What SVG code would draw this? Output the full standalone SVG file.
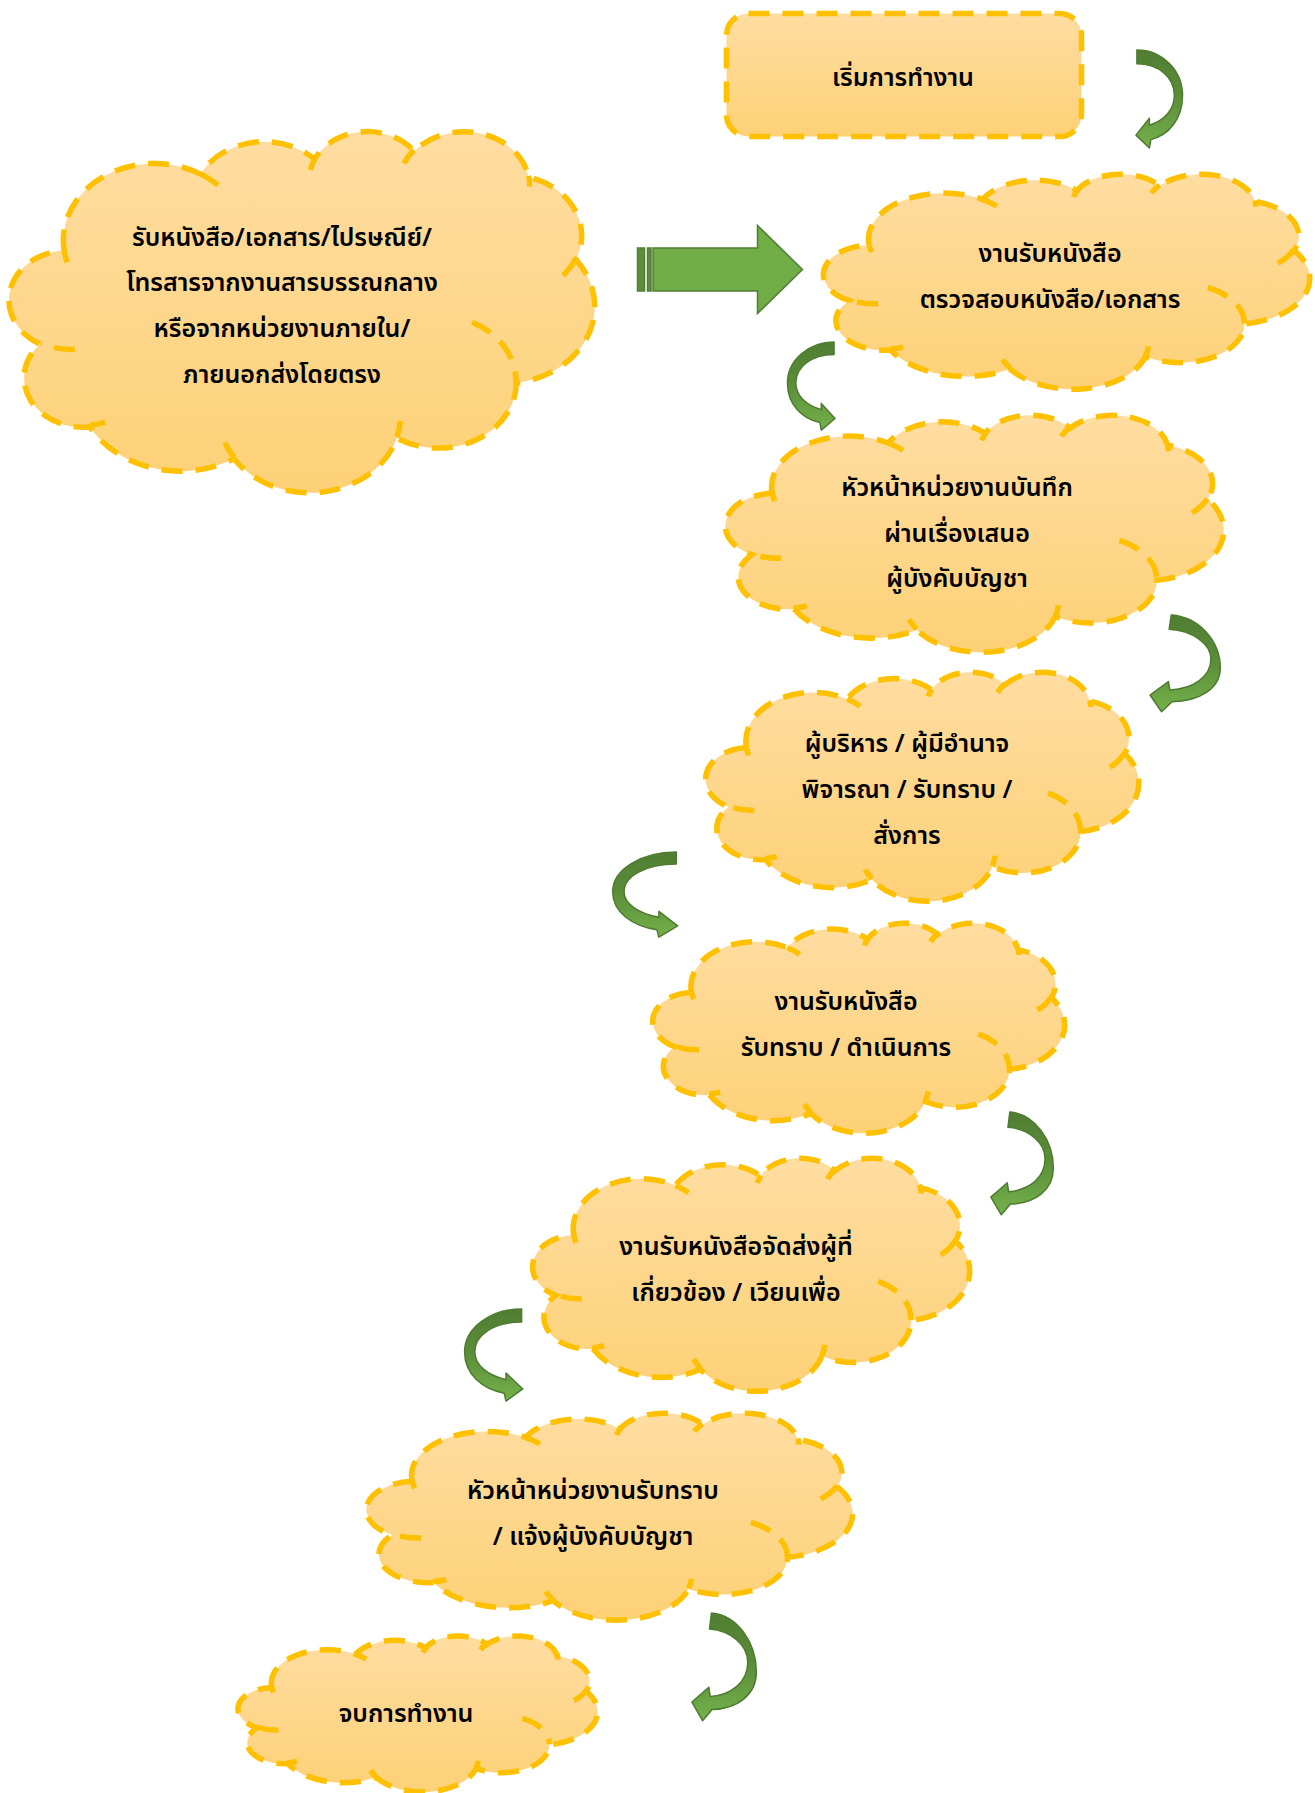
<svg xmlns="http://www.w3.org/2000/svg" xmlns:xlink="http://www.w3.org/1999/xlink" width="1315" height="1793" viewBox="0 0 1315 1793">
<defs>
<linearGradient id="gFill" x1="0" y1="0" x2="0" y2="1">
<stop offset="0" stop-color="#FFDDA1"/>
<stop offset="1" stop-color="#FDD177"/>
</linearGradient>
<linearGradient id="gArrow" x1="0" y1="0" x2="0" y2="1">
<stop offset="0" stop-color="#507E32"/>
<stop offset="0.45" stop-color="#5A8C38"/>
<stop offset="1" stop-color="#74B14B"/>
</linearGradient>
<path id="cloud" vector-effect="non-scaling-stroke" d="M9.03,33.26 A15.63 21.27 0 0 1 32.42,12.04 A12.34 16.82 0 0 1 51.98,7.94 A10.10 13.76 0 0 1 69.06,5.74 A11.24 15.27 0 0 1 88.70,12.91 A12.34 16.84 0 0 1 96.81,35.79 A15.68 21.34 0 0 1 86.59,69.91 A13.39 18.21 0 0 1 66.10,85.21 A15.63 21.33 0 0 1 38.15,90.89 A17.87 24.41 0 0 1 13.44,82.11 A10.09 13.70 0 0 1 4.89,59.14 A10.06 13.76 0 0 1 9.03,33.26 Z"/>
<path id="cloudIn" vector-effect="non-scaling-stroke" d="M10.86,60.59 A10.06 13.76 0 0 1 5.00,58.75 M16.04,80.78 A10.09 13.70 0 0 1 13.47,81.67 M38.14,90.49 A15.63 21.33 0 0 1 36.60,86.46 M66.73,80.44 A15.63 21.33 0 0 1 66.11,84.86 M79.00,53.13 A13.39 18.21 0 0 1 86.53,69.65 M96.75,35.54 A12.34 16.84 0 0 1 93.40,41.74 M88.71,12.56 A11.24 15.27 0 0 1 88.89,15.49 M67.31,9.15 A11.24 15.27 0 0 1 69.03,5.41 M51.25,10.93 A10.10 13.76 0 0 1 52.08,7.71 M32.41,12.02 A15.63 21.27 0 0 1 35.41,15.14 M9.55,36.55 A15.63 21.27 0 0 1 9.03,33.27"/>
<path id="a1" vector-effect="non-scaling-stroke" d="M4,0 C55,0 99,20 99,46 C99,70 70,86 33,90.5 L30,99 L2,86 L30,69 L30,76 C62,71 82,60 82,46 C82,28 50,14 4,14 Z"/>
<path id="a2" vector-effect="non-scaling-stroke" d="M31,1 C70,3 99,28 99,55 C99,76 70,89 32,89.5 L17.5,99.7 L1.4,82.7 L27,69 L29,77.6 C62,76 86,64 86,46 C86,30 60,17 28,15.6 Z"/>
</defs>
<style>
.sh { fill: url(#gFill); stroke: #FFC000; stroke-width: 5.5; stroke-dasharray: 21 13; }
.in { fill: none; stroke: #FFC000; stroke-width: 5.5; stroke-dasharray: 21 13; }
.box { fill: url(#gFill); stroke: #FFC000; stroke-width: 5.5; stroke-dasharray: 21 13; }
.ar { fill: url(#gArrow); stroke: #4E7B30; stroke-width: 1.5; stroke-linejoin: round; }
.ba { fill: #70AD47; stroke: #507E32; stroke-width: 1.5; }
.bs { fill: #5B8F3A; stroke: #507E32; stroke-width: 1.5; }
.t { font-family: "Tahoma", "Leelawadee UI", "Noto Sans Thai", "Noto Sans Thai UI", "Noto Sans", "DejaVu Sans", sans-serif; font-size: 25px; font-weight: 600; fill: #000; text-anchor: middle; dominant-baseline: central; }
</style>
<rect width="1315" height="1793" fill="#ffffff"/>

<g id="start">
<rect class="box" x="726.5" y="13.5" width="355" height="123" rx="22" ry="22"/>
<text class="t" x="903" y="78">เริ่มการทำงาน</text>
</g>

<g id="source">
<use href="#cloud" class="sh" transform="translate(11.5,130.5) scale(5.83,3.61)"/>
<use href="#cloudIn" class="in" transform="translate(11.5,130.5) scale(5.83,3.61)"/>
<text class="t" x="282" y="238">รับหนังสือ/เอกสาร/ไปรษณีย์/</text>
<text class="t" x="282" y="283">โทรสารจากงานสารบรรณกลาง</text>
<text class="t" x="282" y="329">หรือจากหน่วยงานภายใน/</text>
<text class="t" x="282" y="375">ภายนอกส่งโดยตรง</text>
</g>

<g id="check">
<use href="#cloud" class="sh" transform="translate(825.5,173.5) scale(4.84,2.15)"/>
<use href="#cloudIn" class="in" transform="translate(825.5,173.5) scale(4.84,2.15)"/>
<text class="t" x="1050" y="254">งานรับหนังสือ</text>
<text class="t" x="1050" y="300">ตรวจสอบหนังสือ/เอกสาร</text>
</g>

<g id="headNote">
<use href="#cloud" class="sh" transform="translate(727.5,414.5) scale(4.96,2.37)"/>
<use href="#cloudIn" class="in" transform="translate(727.5,414.5) scale(4.96,2.37)"/>
<text class="t" x="957" y="488">หัวหน้าหน่วยงานบันทึก</text>
<text class="t" x="957" y="534">ผ่านเรื่องเสนอ</text>
<text class="t" x="957" y="579">ผู้บังคับบัญชา</text>
</g>

<g id="executive">
<use href="#cloud" class="sh" transform="translate(707.5,671.5) scale(4.31,2.29)"/>
<use href="#cloudIn" class="in" transform="translate(707.5,671.5) scale(4.31,2.29)"/>
<text class="t" x="907" y="744">ผู้บริหาร / ผู้มีอำนาจ</text>
<text class="t" x="907" y="790">พิจารณา / รับทราบ /</text>
<text class="t" x="907" y="836">สั่งการ</text>
</g>

<g id="acknowledge">
<use href="#cloud" class="sh" transform="translate(654.5,922.5) scale(4.10,2.10)"/>
<use href="#cloudIn" class="in" transform="translate(654.5,922.5) scale(4.10,2.10)"/>
<text class="t" x="846" y="1002">งานรับหนังสือ</text>
<text class="t" x="846" y="1048">รับทราบ / ดำเนินการ</text>
</g>

<g id="distribute">
<use href="#cloud" class="sh" transform="translate(534.5,1157.5) scale(4.35,2.33)"/>
<use href="#cloudIn" class="in" transform="translate(534.5,1157.5) scale(4.35,2.33)"/>
<text class="t" x="736" y="1247">งานรับหนังสือจัดส่งผู้ที่</text>
<text class="t" x="736" y="1293">เกี่ยวข้อง / เวียนเพื่อ</text>
</g>

<g id="inform">
<use href="#cloud" class="sh" transform="translate(368.5,1412.5) scale(4.84,2.07)"/>
<use href="#cloudIn" class="in" transform="translate(368.5,1412.5) scale(4.84,2.07)"/>
<text class="t" x="593" y="1491">หัวหน้าหน่วยงานรับทราบ</text>
<text class="t" x="593" y="1537">/ แจ้งผู้บังคับบัญชา</text>
</g>

<g id="end">
<use href="#cloud" class="sh" transform="translate(239.5,1635.5) scale(3.58,1.56)"/>
<use href="#cloudIn" class="in" transform="translate(239.5,1635.5) scale(3.58,1.56)"/>
<text class="t" x="406" y="1714">จบการทำงาน</text>
</g>

<g id="connectors">
<g id="blockArrow">
<rect class="bs" x="637.5" y="248" width="7" height="43"/>
<rect class="bs" x="647.5" y="248" width="3.5" height="43"/>
<path class="ba" d="M653,248 H757.5 V225.5 L802.5,269.5 L757.5,313.5 V291 H653 Z"/>
</g>
<use href="#a1" class="ar" transform="translate(1135,50) scale(0.48,0.99)"/>
<use href="#a1" class="ar" transform="translate(836,342) scale(-0.49,0.89)"/>
<use href="#a2" class="ar" transform="translate(1149,614) scale(0.72,0.98)"/>
<use href="#a1" class="ar" transform="translate(679,852) scale(-0.67,0.86)"/>
<use href="#a2" class="ar" transform="translate(990,1111) scale(0.64,1.04)"/>
<use href="#a1" class="ar" transform="translate(524,1309) scale(-0.60,0.93)"/>
<use href="#a2" class="ar" transform="translate(691,1612) scale(0.66,1.09)"/>
</g>
</svg>
